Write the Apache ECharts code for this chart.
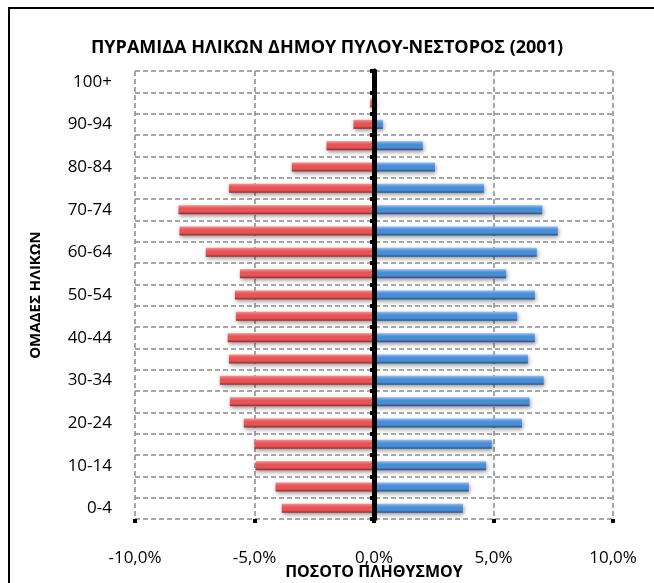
<!DOCTYPE html>
<html>
<head>
<meta charset="utf-8">
<script src="https://cdn.jsdelivr.net/npm/echarts@6/dist/echarts.min.js"></script>
<style>
  html, body { margin: 0; padding: 0; background: #fff; }
  #chart { width: 654px; height: 583px; }
</style>
</head>
<body>
<div id="chart"></div>
<script>
// ομάδες ηλικιών (από κάτω προς τα πάνω)
const ageGroups = ['0-4', '5-9', '10-14', '15-19', '20-24', '25-29', '30-34', '35-39', '40-44', '45-49',
  '50-54', '55-59', '60-64', '65-69', '70-74', '75-79', '80-84', '85-89', '90-94', '95-99', '100+']
// αριστερά (κόκκινο), αρνητικές τιμές %
const leftValues = [-3.86, -4.12, -4.96, -5.0, -5.45, -6.03, -6.45, -6.07, -6.12, -5.78,
  -5.82, -5.61, -7.04, -8.14, -8.18, -6.07, -3.44, -1.99, -0.86, -0.16, -0.02]
// δεξιά (μπλε)
const rightValues = [3.72, 3.97, 4.69, 4.93, 6.19, 6.51, 7.1, 6.44, 6.73, 5.99,
  6.73, 5.53, 6.81, 7.69, 7.04, 4.6, 2.55, 2.04, 0.37, 0.05, 0]
const xTicks = { min: -10, max: 10, step: 5 }

const FONT = 'Open Sans'
const chart = echarts.init(document.getElementById('chart'))

const grad = (top, mid, bottom) => new echarts.graphic.LinearGradient(0, 0, 0, 1, [
  { offset: 0, color: top },
  { offset: 0.35, color: mid },
  { offset: 0.7, color: mid },
  { offset: 1, color: bottom }
])

const dashed = { color: '#8a8a8a', type: [5, 3], width: 1.5 }

const option = {
  animation: false,
  textStyle: { fontFamily: FONT },
  title: {
    text: 'ΠΥΡΑΜΙΔΑ ΗΛΙΚΩΝ ΔΗΜΟΥ ΠΥΛΟΥ-ΝΕΣΤΟΡΟΣ (2001)',
    left: 'center',
    top: 34,
    textStyle: { fontFamily: FONT, fontSize: 18, fontWeight: 'bold', color: '#000' }
  },
  graphic: [{
    type: 'rect',
    shape: { x: 9, y: 8, width: 700, height: 700 },
    style: { fill: 'none', stroke: '#000', lineWidth: 2 },
    silent: true
  }],
  grid: { left: 135, right: 41, top: 71, bottom: 64, outerBoundsMode: 'none' },
  xAxis: {
    type: 'value',
    min: xTicks.min,
    max: xTicks.max,
    interval: xTicks.step,
    name: 'ΠΟΣΟΤΟ ΠΛΗΘΥΣΜΟΥ',
    nameLocation: 'middle',
    nameGap: 45,
    nameMoveOverlap: false,
    nameTextStyle: { fontFamily: FONT, fontSize: 16, fontWeight: 'bold', color: '#000' },
    axisLine: { onZero: false, lineStyle: { color: '#000', width: 4 } },
    axisTick: { show: true, length: 4, lineStyle: { color: '#000', width: 4 } },
    axisLabel: {
      margin: 31,
      fontSize: 17,
      color: '#000',
      formatter: v => v.toFixed(1).replace('.', ',') + '%'
    },
    splitLine: { show: true, lineStyle: dashed }
  },
  yAxis: [{
    type: 'category',
    data: ageGroups,
    position: 'left',
    name: 'ΟΜΑΔΕΣ ΗΛΙΚΩΝ',
    nameLocation: 'middle',
    nameRotate: 90,
    nameGap: 92,
    nameMoveOverlap: false,
    nameTextStyle: { fontFamily: FONT, fontSize: 15, fontWeight: 'bold', color: '#000' },
    axisLine: { show: false, onZero: false },
    axisTick: { show: false },
    axisLabel: { interval: 1, margin: 23, fontSize: 17, color: '#000' },
    splitLine: { show: true, interval: 0, lineStyle: dashed }
  }, {
    // κεντρικός άξονας στο 0
    type: 'category',
    data: ageGroups,
    position: 'left',
    z: 10,
    axisLine: { show: true, onZero: true, lineStyle: { color: '#000', width: 5 } },
    axisTick: { show: true, interval: 0, length: 4, lineStyle: { color: '#000', width: 4 } },
    axisLabel: { show: false },
    splitLine: { show: false }
  }],
  series: [{
    name: 'Άνδρες',
    type: 'bar',
    yAxisIndex: 0,
    barWidth: 9,
    barGap: '-100%',
    data: leftValues,
    itemStyle: {
      color: grad('#f59090', '#e85454', '#8e2c2c'),
      shadowColor: 'rgba(0,0,0,0.4)',
      shadowBlur: 4,
      shadowOffsetX: 1,
      shadowOffsetY: 2
    }
  }, {
    name: 'Γυναίκες',
    type: 'bar',
    yAxisIndex: 0,
    barWidth: 9,
    barGap: '-100%',
    data: rightValues,
    itemStyle: {
      color: grad('#8cbcf2', '#4b8ed8', '#2b4f80'),
      shadowColor: 'rgba(0,0,0,0.4)',
      shadowBlur: 4,
      shadowOffsetX: 1,
      shadowOffsetY: 2
    }
  }]
}

chart.setOption(option)
</script>
</body>
</html>
